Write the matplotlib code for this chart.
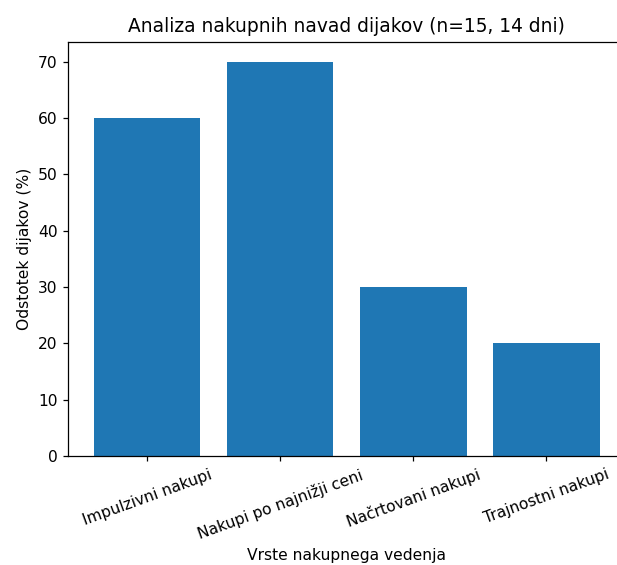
import matplotlib
matplotlib.use("Agg")
import matplotlib.pyplot as plt

categories = ["Impulzivni nakupi", "Nakupi po najnižji ceni", "Načrtovani nakupi", "Trajnostni nakupi"]
values = [60, 70, 30, 20]

DPI = 112
fig = plt.figure(figsize=(617 / DPI, 565 / DPI), dpi=DPI)
ax = fig.add_axes([0.111, 0.193, 0.902, 0.733])
ax.bar(categories, values, color="#1f77b4")
ax.set_title("Analiza nakupnih navad dijakov (n=15, 14 dni)")
ax.set_ylabel("Odstotek dijakov (%)")
ax.set_xlabel("Vrste nakupnega vedenja")
plt.setp(ax.get_xticklabels(), rotation=20)
fig.savefig("out.png", dpi=DPI)
